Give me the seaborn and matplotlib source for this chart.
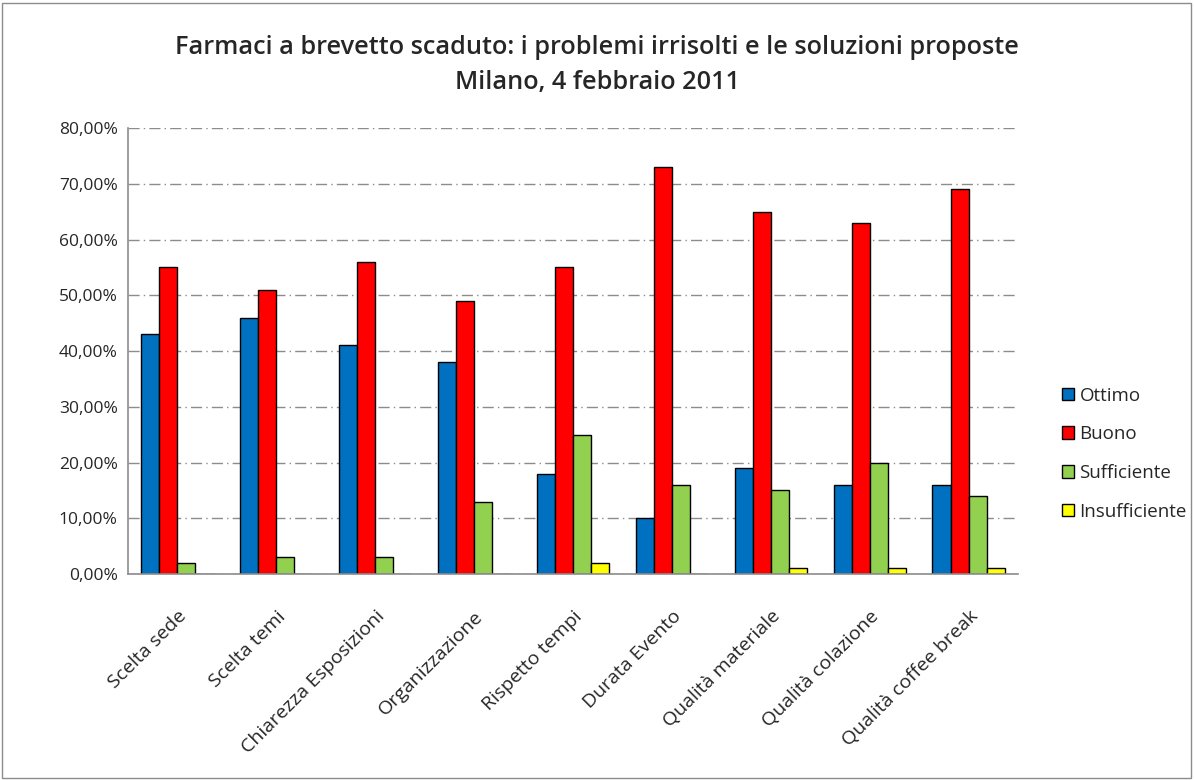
import matplotlib
matplotlib.use("Agg")
import matplotlib.pyplot as plt
from matplotlib.patches import Rectangle
from matplotlib.ticker import FuncFormatter, FixedLocator
import seaborn as sns
import pandas as pd

categories = ["Scelta sede", "Scelta temi", "Chiarezza Esposizioni", "Organizzazione",
              "Rispetto tempi", "Durata Evento", "Qualità materiale",
              "Qualità colazione", "Qualità coffee break"]
ottimo = [43, 46, 41, 38, 18, 10, 19, 16, 16]
buono = [55, 51, 56, 49, 55, 73, 65, 63, 69]
sufficiente = [2, 3, 3, 13, 25, 16, 15, 20, 14]
insufficiente = [0, 0, 0, 0, 2, 0, 1, 1, 1]
series = ["Ottimo", "Buono", "Sufficiente", "Insufficiente"]
colors = {"Ottimo": "#0070C0", "Buono": "#FF0000",
          "Sufficiente": "#92D050", "Insufficiente": "#FFFF00"}

rows = []
for name, vals in zip(series, [ottimo, buono, sufficiente, insufficiente]):
    for cat, v in zip(categories, vals):
        rows.append({"cat": cat, "serie": name, "val": v / 100})
df = pd.DataFrame(rows)

sns.set_style("white")
plt.rcParams["font.family"] = ["Open Sans", "DejaVu Sans"]

fig = plt.figure(figsize=(11.94, 7.8), dpi=100)
ax = fig.add_axes([128 / 1194, 1 - 574 / 780, (1018 - 128) / 1194, (574 - 128) / 780])

sns.barplot(data=df, x="cat", y="val", hue="serie", hue_order=series,
            palette=colors, saturation=1, width=0.73, gap=0,
            edgecolor="black", linewidth=1, ax=ax, legend=True)

ax.set_ylim(0, 0.8)
ax.set_xlim(-0.5, len(categories) - 0.5)
ax.set_yticks([i / 10 for i in range(9)])
ax.yaxis.set_major_formatter(FuncFormatter(lambda v, p: f"{v * 100:.2f}%".replace(".", ",")))
ax.yaxis.grid(True, color="#8c8c8c", linestyle=(0, (8, 3, 1, 3)), linewidth=1)
ax.set_axisbelow(True)
ax.set_xlabel("")
ax.set_ylabel("")

# ticks between categories, labels at centers
ax.set_xticks(range(len(categories)))
ax.set_xticklabels(categories, rotation=45, ha="right", rotation_mode="anchor", fontsize=14)
ax.tick_params(axis="x", which="major", length=0, pad=24)
ax.xaxis.set_minor_locator(FixedLocator([i - 0.5 for i in range(len(categories) + 1)]))
ax.tick_params(axis="x", which="minor", length=4.5, color="#8c8c8c", direction="out")
ax.tick_params(axis="y", length=4.5, color="#8c8c8c", direction="out", labelsize=12.5, pad=3)

for s in ["top", "right"]:
    ax.spines[s].set_visible(False)
for s in ["left", "bottom"]:
    ax.spines[s].set_color("#8c8c8c")
    ax.spines[s].set_linewidth(1.2)

leg = ax.legend(loc="center left", bbox_to_anchor=(1.03, 0.27), frameon=False,
                fontsize=13.5, handlelength=0.65, handleheight=0.65,
                handletextpad=0.3, labelspacing=1.1)
for h in leg.legend_handles:
    h.set_edgecolor("black")
    h.set_linewidth(1)

fig.text(0.5, 1 - 48 / 780, "Farmaci a brevetto scaduto: i problemi irrisolti e le soluzioni proposte",
         ha="center", va="center", fontsize=18.2, fontweight="semibold")
fig.text(0.5, 1 - 82 / 780, "Milano, 4 febbraio 2011",
         ha="center", va="center", fontsize=18.2, fontweight="semibold")

fig.patches.append(Rectangle((2 / 1194, 2 / 780), 1 - 5 / 1194, 1 - 5 / 780,
                             transform=fig.transFigure, fill=False,
                             edgecolor="#8c8c8c", linewidth=1))

fig.savefig("out.png", dpi=100)
